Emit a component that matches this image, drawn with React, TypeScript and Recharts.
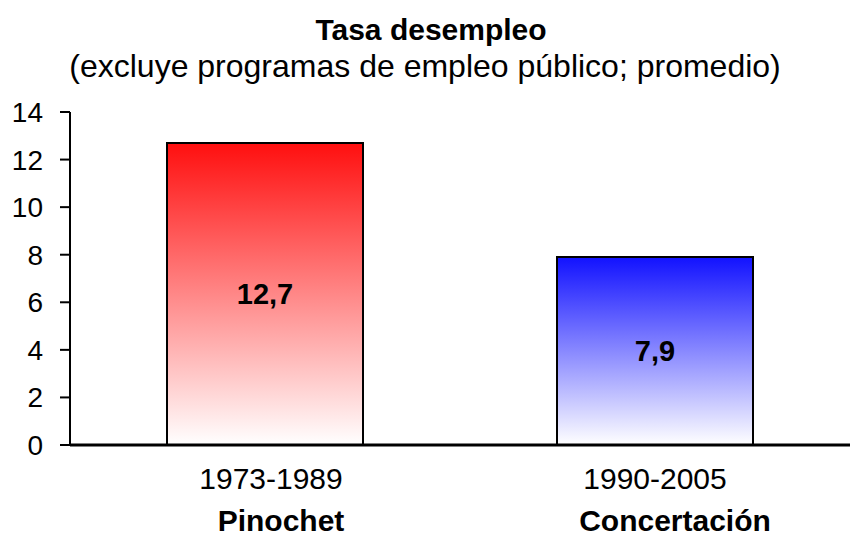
import React from 'react';
import { BarChart, Bar, XAxis, YAxis, Cell, LabelList } from 'recharts';

const periods = ['1973-1989', '1990-2005'];
const governments = ['Pinochet', 'Concertación'];
const rates = [12.7, 7.9];
const yTicks = [0, 2, 4, 6, 8, 10, 12, 14];
const gradientTops = ['#ff0f0f', '#1212ff'];

const data = periods.map((period, i) => ({
  period,
  government: governments[i],
  rate: rates[i],
}));

const FONT = '"Liberation Sans", Arial, sans-serif';

// the labels in the original sit a little right of the bar centre
const periodShift = [6, 0];
const nameShift = [16, 20];

const PeriodTick = (props: any) => {
  const { x, y, index } = props;
  return (
    <g>
      <text x={x + periodShift[index]} y={y + 33} textAnchor="middle" dominantBaseline="central" fontSize={30} fill="#000" fontFamily={FONT}>
        {periods[index]}
      </text>
      <text x={x + nameShift[index]} y={y + 75} textAnchor="middle" dominantBaseline="central" fontSize={30} fontWeight="bold" fill="#000" fontFamily={FONT}>
        {governments[index]}
      </text>
    </g>
  );
};

const App: React.FC = () => {
  return (
    <div style={{ position: 'absolute', left: 0, top: 0, width: 850, height: 536, background: '#fff', fontFamily: FONT }}>
      <div style={{ position: 'absolute', left: 0, top: 10, width: 850, height: 40, lineHeight: '40px', textAlign: 'center', fontWeight: 'bold', fontSize: 30, paddingLeft: 12, boxSizing: 'border-box' }}>
        Tasa desempleo
      </div>
      <div style={{ position: 'absolute', left: 0, top: 46, width: 850, height: 40, lineHeight: '40px', textAlign: 'center', fontSize: 32, boxSizing: 'border-box' }}>
        (excluye programas de empleo público; promedio)
      </div>
      <BarChart
        width={850}
        height={536}
        data={data}
        margin={{ top: 112, right: 0, bottom: 0, left: 0 }}
        style={{ position: 'absolute', left: 0, top: 0 }}
      >
        <defs>
          {gradientTops.map((c, i) => (
            <linearGradient key={i} id={`grad${i}`} x1="0" y1="0" x2="0" y2="1">
              <stop offset="0%" stopColor={c} />
              <stop offset="100%" stopColor="#ffffff" />
            </linearGradient>
          ))}
        </defs>
        <YAxis
          width={70}
          domain={[0, 14]}
          ticks={yTicks}
          interval={0}
          tickSize={10}
          tickMargin={17}
          axisLine={{ stroke: '#000', strokeWidth: 2 }}
          tickLine={{ stroke: '#000', strokeWidth: 2 }}
          tick={{ fontSize: 28, fill: '#000', fontFamily: FONT }}
        />
        <XAxis
          dataKey="period"
          height={91}
          tickSize={0}
          tickMargin={0}
          interval={0}
          axisLine={{ stroke: '#000', strokeWidth: 3 }}
          tickLine={false}
          tick={<PeriodTick />}
        />
        <Bar dataKey="rate" barSize={196} stroke="#000" strokeWidth={2} isAnimationActive={false}>
          {data.map((_, i) => (
            <Cell key={i} fill={`url(#grad${i})`} />
          ))}
          <LabelList
            dataKey="rate"
            position="center"
            formatter={(v: any) => String(v).replace('.', ',')}
            style={{ fontSize: 29, fontWeight: 'bold', fill: '#000', fontFamily: FONT }}
          />
        </Bar>
      </BarChart>
    </div>
  );
};

export default App;
